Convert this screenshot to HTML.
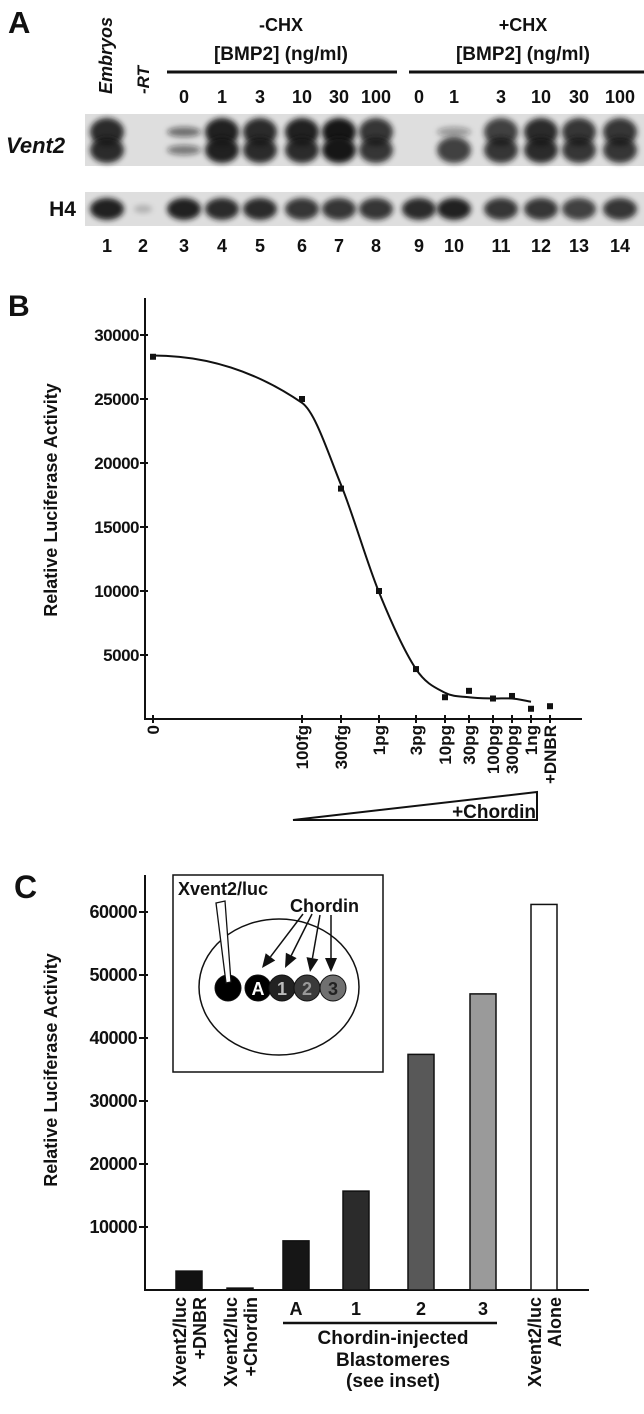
<!DOCTYPE html>
<html><head><meta charset="utf-8"><style>
html,body{margin:0;padding:0;background:#fff}
svg{display:block}
text{font-family:"Liberation Sans",Arial,sans-serif;font-weight:bold;fill:#111}
</style></head><body>
<svg id="fig" width="644" height="1414" viewBox="0 0 644 1414">
<defs>
<filter id="blur" x="-50%" y="-50%" width="200%" height="200%"><feGaussianBlur stdDeviation="2.6"/></filter>
</defs>
<g id="panelA">
<text x="8" y="33" font-size="31">A</text>
</g>
<g id="panelB">
<text x="8" y="316" font-size="30">B</text>
</g>
<g id="panelC">
<text x="14" y="898" font-size="32">C</text>
</g>
</svg>
<script>
// ---------- Panel A data ----------
const laneNumbers = ['1','2','3','4','5','6','7','8','9','10','11','12','13','14'];
const concLabels = ['0','1','3','10','30','100','0','1','3','10','30','100'];
const vent2Upper = [0.9,0,0.55,0.95,0.9,0.95,1,0.85,0,0.35,0.8,0.9,0.85,0.85];
const vent2Lower = [0.9,0,0.5,0.95,0.9,0.9,1,0.85,0,0.8,0.85,0.9,0.85,0.85];
const h4Signal = [0.95,0.2,0.95,0.9,0.9,0.85,0.85,0.85,0.9,0.95,0.85,0.85,0.8,0.85];

// ---------- Panel B data ----------
const doseLabels = ['0','100fg','300fg','1pg','3pg','10pg','30pg','100pg','300pg','1ng','+DNBR'];
const doseValues = [28300,25000,18000,10000,3900,1700,2200,1600,1800,800,1000];
const fitValues = [28400,24700,18300,9900,3900,2050,1700,1600,1600,1350];
const bTicks = [5000,10000,15000,20000,25000,30000];

// ---------- Panel C data ----------
const cCategories = ['dnbr','chordin','A','1','2','3','alone'];
const cValues = [3000,300,7800,15700,37400,47000,61200];
const cFills = ['#111','#111','#161616','#2b2b2b','#585858','#9a9a9a','#fff'];
const cTicks = [10000,20000,30000,40000,50000,60000];

const NS='http://www.w3.org/2000/svg';
function mk(parent,tag,attrs,txt){const e=document.createElementNS(NS,tag);for(const k in attrs)e.setAttribute(k,attrs[k]);if(txt!==undefined)e.textContent=txt;parent.appendChild(e);return e;}

// ===== Panel A =====
const A=document.getElementById('panelA');
const laneCenters=[107,143,184,222,260,302,339,376,419,454,501,541,579,620];
const laneXs=i=>laneCenters[i];
let t=mk(A,'text',{x:0,y:0,'font-size':18,'font-style':'italic',transform:'translate(112,94) rotate(-90)'},'Embryos');


t=mk(A,'text',{x:0,y:0,'font-size':17,'font-style':'italic',transform:'translate(149,94) rotate(-90)'},'-RT');


[['-CHX',281],['+CHX',523]].forEach(([s,cx])=>{
  let a=mk(A,'text',{x:cx,y:31,'font-size':18,'text-anchor':'middle'},s);
  
  
  let b=mk(A,'text',{x:cx,y:60,'font-size':19,'text-anchor':'middle'},'[BMP2] (ng/ml)');
  
  
});
let l=mk(A,'line',{x1:167,y1:72,x2:397,y2:72,stroke:'#111','stroke-width':3});


l=mk(A,'line',{x1:409,y1:72,x2:644,y2:72,stroke:'#111','stroke-width':3});


concLabels.forEach((c,i)=>{
  const e=mk(A,'text',{x:laneXs(i+2),y:103,'font-size':18,'text-anchor':'middle'},c);
  
  
});
let r=mk(A,'rect',{x:85,y:114,width:559,height:52,fill:'#dedede'});


r=mk(A,'rect',{x:85,y:192,width:559,height:34,fill:'#dedede'});


t=mk(A,'text',{x:6,y:153,'font-size':22,'font-style':'italic'},'Vent2');


t=mk(A,'text',{x:76,y:216,'font-size':21,'text-anchor':'end'},'H4');


laneNumbers.forEach((n,i)=>{
  const cx=laneXs(i);
  if(vent2Upper[i]>0){
    const b=mk(A,'ellipse',{cx:cx,cy:132,rx:17,ry:vent2Upper[i]>0.7?14:5,fill:'#151515','fill-opacity':vent2Upper[i],filter:'url(#blur)'});
    
    
  }
  if(vent2Lower[i]>0){
    const b=mk(A,'ellipse',{cx:cx,cy:150,rx:17,ry:vent2Lower[i]>0.7?13:5,fill:'#151515','fill-opacity':vent2Lower[i],filter:'url(#blur)'});
    
    
  }
  const h=mk(A,'ellipse',{cx:cx,cy:209,rx:h4Signal[i]<0.5?9:17,ry:h4Signal[i]<0.5?4:11,fill:'#151515','fill-opacity':h4Signal[i],filter:'url(#blur)'});
  
  
  const e=mk(A,'text',{x:cx,y:252,'font-size':18,'text-anchor':'middle'},n);
  
  
});

// ===== Panel B =====
const B=document.getElementById('panelB');
const bY=v=>719-v*(719-335)/30000;
const bBreaks=[153,302,341,379,416,445,469,493,512,531,550];
const bX=i=>{const f=Math.floor(i),fr=i-f;return f>=bBreaks.length-1?bBreaks[bBreaks.length-1]:bBreaks[f]+(bBreaks[f+1]-bBreaks[f])*fr;};
l=mk(B,'line',{x1:145,y1:298,x2:145,y2:720,stroke:'#111','stroke-width':2});


l=mk(B,'line',{x1:145,y1:719,x2:582,y2:719,stroke:'#111','stroke-width':2});


bTicks.forEach(v=>{
  const y=bY(v);
  const tk=mk(B,'line',{x1:140,y1:y,x2:148,y2:y,stroke:'#111','stroke-width':2});
  
  
  const e=mk(B,'text',{x:139,y:y+6,'font-size':17,'text-anchor':'end','letter-spacing':'-0.5'},String(v));
  
  
});
t=mk(B,'text',{x:0,y:0,'font-size':18,'text-anchor':'middle',transform:'translate(57,500) rotate(-90)'},'Relative Luciferase Activity');


doseLabels.forEach((d,i)=>{
  const x=bX(i);
  const tk=mk(B,'line',{x1:x,y1:715,x2:x,y2:723,stroke:'#111','stroke-width':2});
  
  
  const e=mk(B,'text',{x:0,y:0,'font-size':17,'text-anchor':'end',transform:`translate(${x+6},725) rotate(-90)`},d);
  
  
});
// fitted curve: non-uniform cubic Hermite
const pts=fitValues.map((v,i)=>[bX(i),bY(v)]);
const slopes=pts.map((p,i)=>{
  if(i===0) return 0;
  if(i===pts.length-1) return (p[1]-pts[i-1][1])/(p[0]-pts[i-1][0]);
  const a=pts[i-1],b=pts[i+1];
  return (b[1]-a[1])/(b[0]-a[0]);
});
let dstr=`M${pts[0][0]},${pts[0][1]}`;
for(let i=0;i<pts.length-1;i++){
  const p1=pts[i],p2=pts[i+1],dx=(p2[0]-p1[0])/3;
  dstr+=` C${p1[0]+dx},${p1[1]+slopes[i]*dx} ${p2[0]-dx},${p2[1]-slopes[i+1]*dx} ${p2[0]},${p2[1]}`;
}
const curve=mk(B,'path',{d:dstr,fill:'none',stroke:'#111','stroke-width':2});


doseValues.forEach((v,i)=>{
  const p=mk(B,'rect',{x:bX(i)-3,y:bY(v)-3,width:6,height:6,fill:'#111'});
  
  
});
const tri=mk(B,'path',{d:'M293,820 L537,820 L537,792 Z',fill:'none',stroke:'#111','stroke-width':2});


t=mk(B,'text',{x:536,y:818,'font-size':19,'text-anchor':'end'},'+Chordin');



// ===== Panel C =====
const C=document.getElementById('panelC');
const cY=v=>1290-v*63/10000;
const cBarW=26, cX0=176, cStep=[0,51,107,167,232,294,355];
const cX=i=>cX0+cStep[i];
l=mk(C,'line',{x1:145,y1:875,x2:145,y2:1291,stroke:'#111','stroke-width':2});


l=mk(C,'line',{x1:145,y1:1290,x2:589,y2:1290,stroke:'#111','stroke-width':2});


cTicks.forEach(v=>{
  const y=cY(v);
  const tk=mk(C,'line',{x1:139,y1:y,x2:148,y2:y,stroke:'#111','stroke-width':2});
  
  
  const e=mk(C,'text',{x:137,y:y+6,'font-size':18,'text-anchor':'end','letter-spacing':'-0.5'},String(v));
  
  
});
t=mk(C,'text',{x:0,y:0,'font-size':18,'text-anchor':'middle',transform:'translate(57,1070) rotate(-90)'},'Relative Luciferase Activity');


cValues.forEach((v,i)=>{
  const b=mk(C,'rect',{x:cX(i),y:cY(v),width:cBarW,height:1290-cY(v),fill:cFills[i],stroke:'#111','stroke-width':1.5});
  
  
});
[[0,'Xvent2/luc','+DNBR'],[1,'Xvent2/luc','+Chordin'],[6,'Xvent2/luc','Alone']].forEach(([i,a,b])=>{
  const cx=cX(i)+cBarW/2;
  const g=mk(C,'text',{x:0,y:0,'font-size':18,'text-anchor':'end',transform:`translate(${cx-3},1297) rotate(-90)`},a);
  
  
  const g2=mk(C,'text',{x:0,y:0,'font-size':18,'text-anchor':'end',transform:`translate(${cx+17},1297) rotate(-90)`},b);
  
  
});
[2,3,4,5].forEach(i=>{
  const e=mk(C,'text',{x:cX(i)+cBarW/2,y:1315,'font-size':18,'text-anchor':'middle'},cCategories[i]);
  
  
});
l=mk(C,'line',{x1:283,y1:1323,x2:497,y2:1323,stroke:'#111','stroke-width':2.5});


[['Chordin-injected',1344],['Blastomeres',1366],['(see inset)',1387]].forEach(([s,y])=>{
  const e=mk(C,'text',{x:393,y:y,'font-size':19,'text-anchor':'middle'},s);
  
  
});
// inset
const ins=mk(C,'g',{});


let ib=mk(ins,'rect',{x:173,y:875,width:210,height:197,fill:'#fff',stroke:'#111','stroke-width':1.5});


let el=mk(ins,'ellipse',{cx:279,cy:987,rx:80,ry:68,fill:'none',stroke:'#111','stroke-width':1.5});


t=mk(ins,'text',{x:178,y:895,'font-size':18},'Xvent2/luc');


t=mk(ins,'text',{x:290,y:912,'font-size':18},'Chordin');


const circ=[[228,'#000','',''],[258,'#000','A','#fff'],[282,'#222','1','#bbb'],[307,'#3a3a3a','2','#999'],[333,'#707070','3','#222']];
const arrowsFrom=[[303,914],[312,914],[320,915],[331,915]];
const arrowTips=[[262,968],[285,968],[310,972],[331,972]];
circ.forEach(([cx,f,s,tc],i)=>{
  const c=mk(ins,'circle',{cx:cx,cy:988,r:13,fill:f,stroke:'#111','stroke-width':1});
  
  
  if(s){
    const tt=mk(ins,'text',{x:cx,y:995,'font-size':18,'text-anchor':'middle',style:'fill:'+tc},s);
    
    
  }
  if(i>0){
    const [fx,fy]=arrowsFrom[i-1];
    const [tx,ty]=arrowTips[i-1];
    const ang=Math.atan2(ty-fy,tx-fx);
    const bx=tx-14*Math.cos(ang), by=ty-14*Math.sin(ang);
    const ar=mk(ins,'line',{x1:fx,y1:fy,x2:bx,y2:by,stroke:'#111','stroke-width':1.5});
    
    
    const p1=[bx+6*Math.sin(ang),by-6*Math.cos(ang)];
    const p2=[bx-6*Math.sin(ang),by+6*Math.cos(ang)];
    const hd=mk(ins,'path',{d:`M${tx},${ty} L${p1[0]},${p1[1]} L${p2[0]},${p2[1]} Z`,fill:'#111'});
    
    
  }
});
const pip=mk(ins,'path',{d:'M216,903 L225,901 L231,982 L226,983 Z',fill:'#fff',stroke:'#111','stroke-width':1.3});


</script>
</body></html>
